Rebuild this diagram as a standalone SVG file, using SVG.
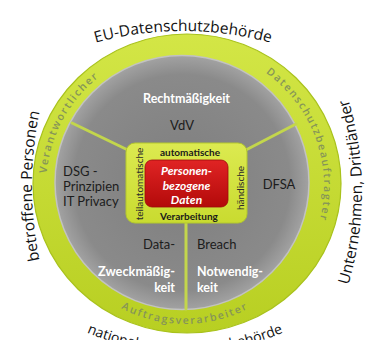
<svg xmlns="http://www.w3.org/2000/svg" width="371" height="340" viewBox="0 0 371 340">
<defs>
  <linearGradient id="ringG" x1="0" y1="0" x2="0" y2="1">
    <stop offset="0" stop-color="#d3e646"/>
    <stop offset="1" stop-color="#b8cf22"/>
  </linearGradient>
  <radialGradient id="grayG" cx="0.5" cy="0.5" r="0.5">
    <stop offset="0" stop-color="#7e7e7e"/>
    <stop offset="0.85" stop-color="#8a8a8a"/>
    <stop offset="1" stop-color="#a2a2a2"/>
  </radialGradient>
  <linearGradient id="boxG" x1="0" y1="0" x2="0" y2="1">
    <stop offset="0" stop-color="#dcea50"/>
    <stop offset="1" stop-color="#c9db30"/>
  </linearGradient>
  <linearGradient id="redG" x1="0" y1="0" x2="0" y2="1">
    <stop offset="0" stop-color="#e02424"/>
    <stop offset="1" stop-color="#b30a0a"/>
  </linearGradient>
  <path id="pEU" d="M 95 43 A 329 329 0 0 1 271 43"/>
  <path id="pLeft" d="M 40 262 A 365 365 0 0 1 40 110"/>
  <path id="pRight" d="M 346 292 A 320 320 0 0 0 346 92"/>
  <path id="pBottom" d="M 8.2 279.3 A 250 250 0 0 0 361.8 279.3"/>
  <path id="pVer" d="M 48.8 213.7 A 139 139 0 0 1 134.1 56.7"/>
  <path id="pDsb" d="M 243.7 60 A 139 139 0 0 1 311 244.7"/>
  <path id="pAuf" d="M 96.3 291.7 A 138 138 0 0 0 273.7 291.7"/>
</defs>
<style>
  .outer{font-family:"Open Sans","DejaVu Sans",sans-serif;font-size:15.5px;fill:#111}
  .ring{font-family:"Open Sans","DejaVu Sans",sans-serif;font-size:10.5px;font-weight:600;letter-spacing:1.7px;fill:#869558}
  .lab{font-family:Lato,"Open Sans",sans-serif;font-size:13px;fill:#1c1c1c}
  .wb{font-family:Lato,"Open Sans",sans-serif;font-size:12.5px;font-weight:bold;fill:#ffffff}
  .cb{font-family:Lato,"Open Sans",sans-serif;font-size:10px;font-weight:bold;fill:#1a1a1a}
  .cr{font-family:Lato,"Open Sans",sans-serif;font-size:10px;fill:#2a2a2a}
  .pd{font-family:Lato,"Open Sans",sans-serif;font-size:12px;font-style:italic;font-weight:bold;fill:#ffffff}
  .div{stroke:#c3d64c;stroke-width:3;stroke-linecap:round;fill:none}
</style>

<g id="outer-labels">
  <text class="outer"><textPath href="#pEU" startOffset="50%" text-anchor="middle">EU-Datenschutzbehörde</textPath></text>
  <text class="outer"><textPath href="#pLeft" startOffset="50%" text-anchor="middle">betroffene Personen</textPath></text>
  <text class="outer"><textPath href="#pRight" startOffset="50%" text-anchor="middle">Unternehmen, Drittländer</textPath></text>
  <text class="outer" style="font-size:14px"><textPath href="#pBottom" startOffset="50%" text-anchor="middle">nationale Datenschutzbehörde</textPath></text>
</g>

<g id="ring">
  <ellipse cx="187" cy="183.5" rx="154" ry="149.5" fill="url(#ringG)" stroke="#a9c21c" stroke-width="1.2"/>
  <text class="ring"><textPath href="#pVer" startOffset="50%" text-anchor="middle">Verantwortlicher</textPath></text>
  <text class="ring"><textPath href="#pDsb" startOffset="50%" text-anchor="middle">Datenschutzbeauftragter</textPath></text>
  <text class="ring"><textPath href="#pAuf" startOffset="50%" text-anchor="middle">Auftragsverarbeiter</textPath></text>
</g>

<g id="disk">
  <circle cx="182" cy="182.5" r="127" fill="url(#grayG)" stroke="#c2c2c2" stroke-width="1.5"/>
</g>

<g id="connectors">
  <line class="div" x1="72" y1="123" x2="132" y2="152"/>
  <line class="div" x1="296" y1="124" x2="242" y2="152"/>
  <line class="div" x1="186" y1="218" x2="186" y2="309"/>
</g>

<g id="sector-top">
  <text class="wb" x="186.5" y="102.5" text-anchor="middle" textLength="87" lengthAdjust="spacingAndGlyphs">Rechtmäßigkeit</text>
  <text class="lab" x="182" y="129.5" text-anchor="middle">VdV</text>
</g>

<g id="sector-left">
  <text class="lab" x="63" y="175.5">DSG -</text>
  <text class="lab" x="63" y="190.5">Prinzipien</text>
  <text class="lab" x="63" y="206">IT Privacy</text>
</g>

<g id="sector-right">
  <text class="lab" x="279" y="189" text-anchor="middle">DFSA</text>
</g>

<g id="sector-bottom-left">
  <text class="lab" x="175" y="249" text-anchor="end">Data-</text>
  <text class="wb" x="175" y="276" text-anchor="end" textLength="77" lengthAdjust="spacingAndGlyphs">Zweckmäßig-</text>
  <text class="wb" x="175" y="292" text-anchor="end">keit</text>
</g>

<g id="sector-bottom-right">
  <text class="lab" x="197" y="249">Breach</text>
  <text class="wb" x="197" y="276" textLength="66" lengthAdjust="spacingAndGlyphs">Notwendig-</text>
  <text class="wb" x="197" y="292">keit</text>
</g>

<g id="center">
  <rect x="126" y="143" width="121" height="80" rx="9" fill="url(#boxG)" stroke="#b3c82c" stroke-width="1"/>
  <text class="cb" x="190" y="156" text-anchor="middle">automatische</text>
  <text class="cb" x="189" y="219.5" text-anchor="middle">Verarbeitung</text>
  <text class="cr" transform="translate(142.5,184) rotate(-90)" text-anchor="middle">teilautomatische</text>
  <text class="cr" transform="translate(243.5,188) rotate(-90)" text-anchor="middle">händische</text>
  <rect x="145" y="160" width="83" height="47" rx="7" fill="url(#redG)" stroke="#9c0a0a" stroke-width="0.8"/>
  <text class="pd" x="186.5" y="175" text-anchor="middle">Personen-</text>
  <text class="pd" x="186.5" y="189.5" text-anchor="middle">bezogene</text>
  <text class="pd" x="186.5" y="204" text-anchor="middle">Daten</text>
</g>
</svg>
